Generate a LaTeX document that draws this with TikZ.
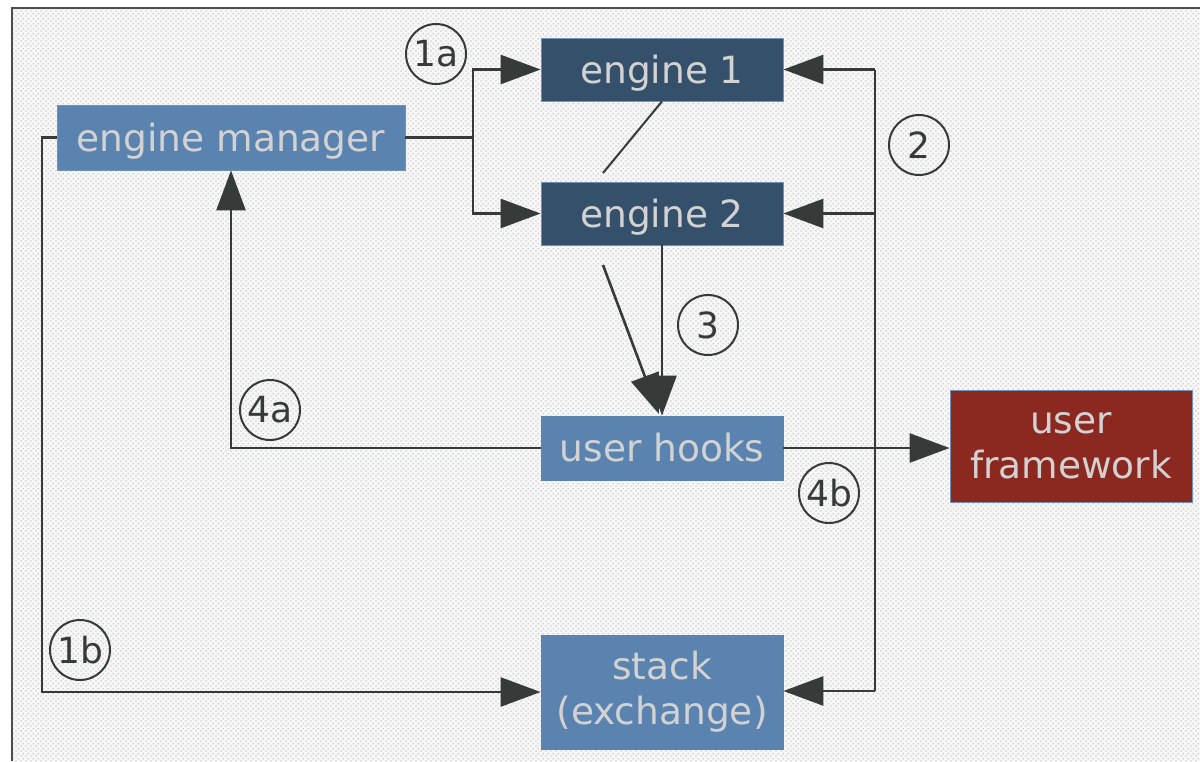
\documentclass[tikz,border=0pt]{standalone}
\usepackage{fontspec}
\setmainfont{DejaVu Sans}
\usetikzlibrary{arrows.meta,patterns.meta}
\definecolor{steel}{HTML}{5A83B0}
\definecolor{dark}{HTML}{34506A}
\definecolor{wine}{HTML}{8B2820}
\definecolor{txt}{HTML}{D2D2D2}
\definecolor{ink}{HTML}{363B3A}
\definecolor{edge}{HTML}{7390B5}
\tikzdeclarepattern{
  name=bgdots,
  type=uncolored,
  bottom left={(0pt,0pt)},
  top right={(5pt,5pt)},
  tile size={(5pt,5pt)},
  code={\fill (1.25pt,1.25pt) circle (0.75pt); \fill (3.75pt,3.75pt) circle (0.75pt);}
}
\tikzset{
  box/.style={rectangle, inner sep=0pt, text=txt, align=center,
    font=\fontsize{37.5}{45}\selectfont, draw=edge, line width=0.8pt},
  conn/.style={draw=ink, line width=2.6pt},
  arr/.style={conn, -{Triangle[length=40pt,width=29pt]}},
  num/.style={circle, draw=ink, line width=2pt, minimum size=60pt, inner sep=0pt,
    text=ink, font=\fontsize{36}{40}\selectfont}
}
\begin{document}
\begin{tikzpicture}[x=1pt,y=-1pt]
\useasboundingbox (0,0) rectangle (1200,761);
% background
\fill[white] (0,0) rectangle (1200,761);
\fill[gray!6] (12,8) rectangle (1200,761);
\fill[pattern=bgdots, pattern color=gray!75] (12,8) rectangle (1200,761);
\draw[line width=2.5pt, color=ink!90] (12,761) -- (12,8) -- (1200,8);

% nodes
\node[box, fill=steel, text depth=0pt, minimum width=348pt, minimum height=65pt] (em) at (231,137.5) {engine manager};
\node[box, fill=dark, text depth=0pt, minimum width=242pt, minimum height=63pt] (e1) at (662,69.5) {engine 1};
\node[box, fill=dark, text depth=0pt, minimum width=242pt, minimum height=63pt] (e2) at (662,213.5) {engine 2};
\node[box, fill=steel, draw=steel, minimum width=242pt, minimum height=64pt] (uh) at (662,448) {user hooks};
\node[box, fill=wine, minimum width=242pt, minimum height=112pt] (uf) at (1071,446) {user\\framework};
\node[box, fill=steel, draw=steel, minimum width=242pt, minimum height=114pt] (st) at (662,692) {stack\\(exchange)};

% coordinates
\coordinate (j1) at (473,137.5);
\coordinate (lb) at (42,137.5);
\coordinate (d1) at (603,173);
\coordinate (d2) at (603,265);
\coordinate (d3) at (659,414);
\coordinate (r1) at (875,69.5);
\coordinate (r2) at (875,691);

% connectors
\draw[conn] (em.east) -- (j1);
\draw[arr] (j1) |- (e1.west);
\draw[arr] (j1) |- (e2.west);
\draw[arr] (em.west) -- (lb) |- (st.west);
\draw[draw=ink, line width=2pt] (e1.south) -- (d1);
\draw[arr] (e2.south) -- (uh.north);
\draw[arr] (d2) -- (d3);
\draw[arr] (uh.west) -| (em.south);
\draw[arr] (uh.east) -- (uh.east -| uf.west);
\draw[conn] (r1) -- (r2);
\draw[arr] (r1) -- (e1.east);
\draw[arr] (e2.east -| r1) -- (e2.east);
\draw[arr] (r2) -- (r2 -| st.east);

% labels
\node[num] (n1a) at (436,54) {1a};
\node[num] (n2) at (919,145) {2};
\node[num] (n3) at (708,325) {3};
\node[num] (n4a) at (270,410) {4a};
\node[num] (n4b) at (829,493) {4b};
\node[num] (n1b) at (80,650) {1b};
\end{tikzpicture}
\end{document}
